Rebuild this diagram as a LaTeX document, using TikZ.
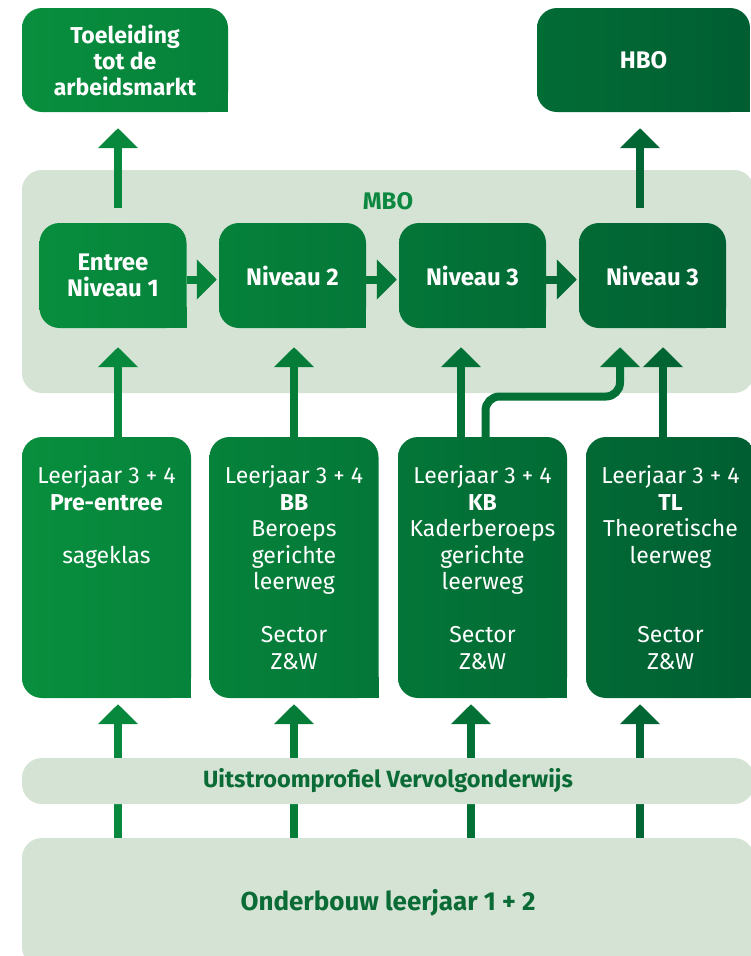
\documentclass[tikz,border=0pt]{standalone}
\usepackage{fontspec}
\setmainfont{Fira Sans}
\usetikzlibrary{backgrounds}
\usetikzlibrary{arrows.meta,positioning,calc}

\definecolor{gA}{HTML}{08903E}
\definecolor{gZ}{HTML}{005E32}
\definecolor{pale}{HTML}{D4E3D4}
\definecolor{ink}{HTML}{0B6B36}
\definecolor{mboink}{HTML}{0C8840}

\tikzset{
  gbox/.style 2 args={rounded corners=20pt,left color=#1,right color=#2,text=white,
    inner sep=0pt,align=center,
    append after command={\pgfextra{\fill[#2,sharp corners]
      ([xshift=-21pt,yshift=21pt]\tikzlastnode.south east) rectangle (\tikzlastnode.south east);}}},
  niv/.style={minimum width=147,minimum height=105,font=\bfseries\fontsize{24}{26}\selectfont},
  lower/.style={minimum width=169,minimum height=261},
  panel/.style={fill=pale,rounded corners=20pt,text=ink,inner sep=0pt},
  flow/.style={draw=#1,line width=8pt,->},
}

\begin{document}
\begin{tikzpicture}[x=1pt,y=-1pt,>={Triangle[width=39pt,length=20pt]},
    font=\fontsize{23}{26.5}\selectfont]
      \useasboundingbox (0,0) rectangle (751,956);
      \clip (0,0) rectangle (751,956);

      % columns for the arrows
      \coordinate (x1) at (118,0);
      \coordinate (x2) at (294,0);
      \coordinate (x3) at (461,0);
      \coordinate (x4) at (485.5,0);
      \coordinate (x5) at (620,0);
      \coordinate (x6) at (663,0);
      \coordinate (x7) at (471,0);
      \coordinate (x8) at (640,0);

      \node[gbox={gA!97!gZ}{gA!70!gZ},minimum width=206,minimum height=104,
        font=\bfseries\fontsize{23}{26}\selectfont] (toe) at (125,60) {Toeleiding\\tot de\\arbeidsmarkt};
      \node[gbox={gA!28!gZ}{gZ},minimum width=213,minimum height=104,
        font=\bfseries\fontsize{24}{26}\selectfont] (hbo) at (643.5,60) {\raisebox{-3pt}{HBO}};

      \node[panel,minimum width=732,minimum height=223] (mbo) at (388,281.5) {};
      \node[text=mboink,font=\bfseries\fontsize{24}{26}\selectfont] (mbot) at (388,201) {MBO};

      \node[gbox={gA!95!gZ}{gA!75!gZ},niv] (n1) at (113,275.5) {Entree\\Niveau 1};
      \node[gbox={gA!71!gZ}{gA!51!gZ},niv] (n2) at (292.5,275.5) {Niveau 2};
      \node[gbox={gA!47!gZ}{gA!27!gZ},niv] (n3) at (472.5,275.5) {Niveau 3};
      \node[gbox={gA!23!gZ}{gA!3!gZ},niv] (n4) at (652.5,275.5) {Niveau 3};

      \draw[flow={gA!73!gZ},shorten >=2pt] ([yshift=-4pt]n1.east) -- ([yshift=-4pt]n2.west);
      \draw[flow={gA!49!gZ},shorten >=2pt] ([yshift=-4pt]n2.east) -- ([yshift=-4pt]n3.west);
      \draw[flow={gA!25!gZ},shorten >=2pt] ([yshift=-4pt]n3.east) -- ([yshift=-4pt]n4.west);

      \draw[flow={gA!84!gZ},shorten <=15pt,shorten >=16pt] (n1.north -| x1) -- (toe.south -| x1);
      \draw[flow={gA!15!gZ},shorten <=15pt,shorten >=16pt] (n4.north -| x8) -- (hbo.south -| x8);

      \node[gbox={gA!97!gZ}{gA!75!gZ},lower] (pre) at (106.5,567.5)
        {Leerjaar 3 + 4\\\textbf{Pre-entree}\\\mbox{}\\sageklas\\\mbox{}\\\mbox{}\\\mbox{}\\\mbox{}};
      \node[gbox={gA!72!gZ}{gA!50!gZ},lower] (bb) at (294,567.5)
        {Leerjaar 3 + 4\\\textbf{BB}\\Beroeps\\gerichte\\leerweg\\\mbox{}\\Sector\\Z\&W};
      \node[gbox={gA!47!gZ}{gA!25!gZ},lower] (kb) at (482.5,567.5)
        {Leerjaar 3 + 4\\\textbf{KB}\\Kaderberoeps\\gerichte\\leerweg\\\mbox{}\\Sector\\Z\&W};
      \node[gbox={gA!22!gZ}{gZ},lower] (tl) at (670.5,567.5)
        {Leerjaar 3 + 4\\\textbf{TL}\\Theoretische\\leerweg\\\mbox{}\\\mbox{}\\Sector\\Z\&W};

      \draw[flow={gA!84!gZ},shorten >=19pt] (pre.north -| x1) -- (n1.south -| x1);
      \draw[flow={gA!61!gZ},shorten >=19pt] (bb.north -| x2) -- (n2.south -| x2);
      \draw[flow={gA!39!gZ},shorten >=19pt] (kb.north -| x3) -- (n3.south -| x3);
      \coordinate (bend) at (550,396.5);
      \draw[flow={gA!36!gZ},rounded corners=14pt,shorten >=19pt] (kb.north -| x4) |- (bend) -| (n4.south -| x5);
      \draw[flow={gA!12!gZ},shorten >=19pt] (tl.north -| x6) -- (n4.south -| x6);

      \node[panel,minimum width=732,minimum height=129,
        font=\bfseries\fontsize{26}{28}\selectfont] (ob) at (388,902.5) {Onderbouw leerjaar 1 + 2};

      \begin{scope}[on background layer]
      \draw[flow={gA!84!gZ},shorten >=6pt] (ob.north -| x1) -- (pre.south -| x1);
      \draw[flow={gA!61!gZ},shorten >=6pt] (ob.north -| x2) -- (bb.south -| x2);
      \draw[flow={gA!37!gZ},shorten >=6pt] (ob.north -| x7) -- (kb.south -| x7);
      \draw[flow={gA!15!gZ},shorten >=6pt] (ob.north -| x8) -- (tl.south -| x8);
      \end{scope}

      \node[panel,minimum width=732,minimum height=46,
        font=\bfseries\fontsize{23.5}{26}\selectfont] (uit) at (388,781) {Uitstroomprofiel Vervolgonderwijs};

\end{tikzpicture}
\end{document}
